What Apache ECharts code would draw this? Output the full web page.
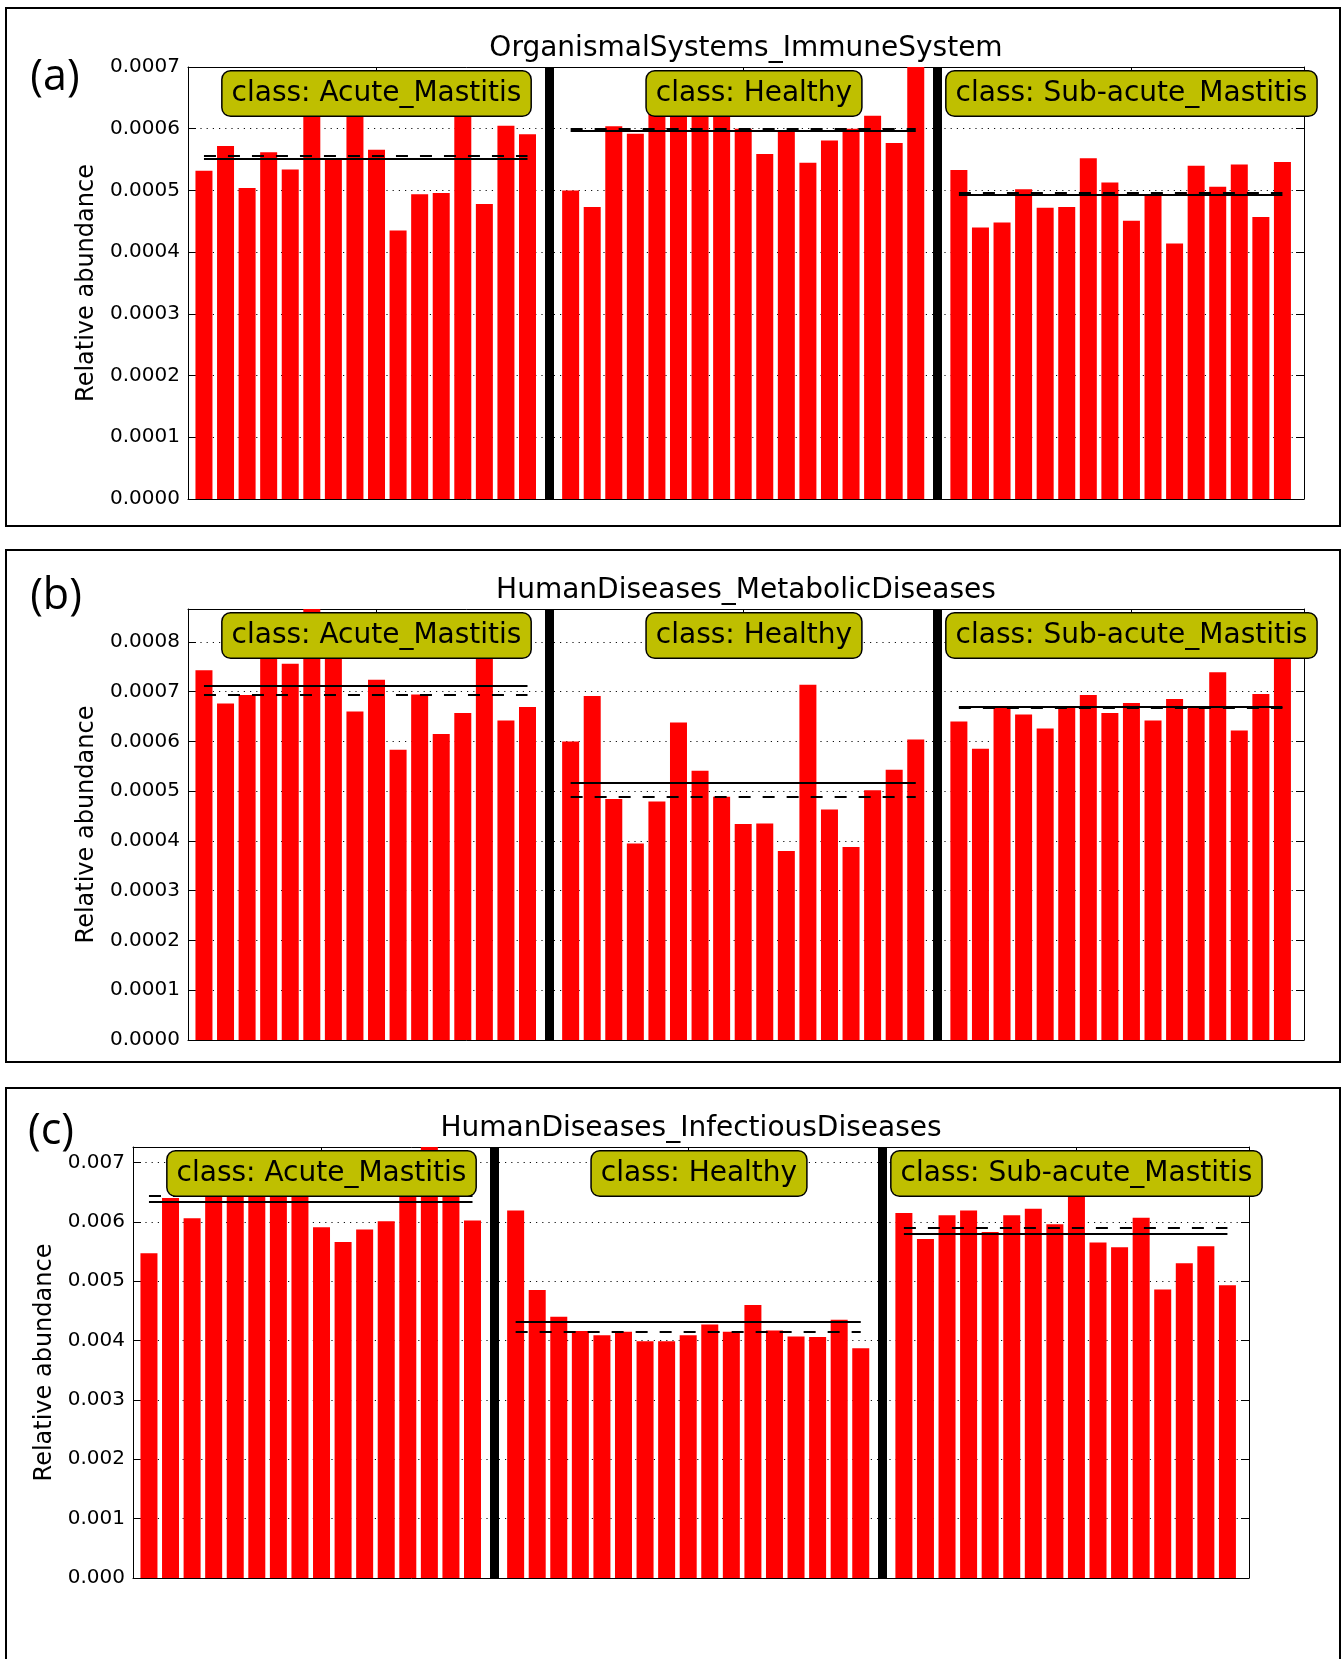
<!DOCTYPE html>
<html>
<head>
<meta charset="utf-8">
<script src="https://cdn.jsdelivr.net/npm/echarts@6/dist/echarts.min.js"></script>
<style>
  html, body { margin: 0; padding: 0; background: #fff; }
  #main { width: 1341px; height: 1659px; }
</style>
</head>
<body>
<div id="main"></div>
<script>
// texts
const panelTitles = ['OrganismalSystems_ImmuneSystem', 'HumanDiseases_MetabolicDiseases', 'HumanDiseases_InfectiousDiseases']
const panelTags = ['(a)', '(b)', '(c)']
const classNames = ['Acute_Mastitis', 'Healthy', 'Sub-acute_Mastitis']
const yAxisName = 'Relative abundance'

// (a) immune system
const immuneAcute = [0.000532, 0.000572, 0.000504, 0.000562, 0.000534, 0.000625, 0.000551, 0.000640,
  0.000566, 0.000435, 0.000494, 0.000496, 0.000631, 0.000478, 0.000605, 0.000591]
const immuneHealthy = [0.000500, 0.000473, 0.000604, 0.000592, 0.000640, 0.000655, 0.000645, 0.000645,
  0.000600, 0.000559, 0.000595, 0.000545, 0.000581, 0.000600, 0.000621, 0.000577, 0.000700]
const immuneSubacute = [0.000533, 0.000440, 0.000448, 0.000502, 0.000472, 0.000473, 0.000552, 0.000513,
  0.000451, 0.000492, 0.000414, 0.000540, 0.000506, 0.000542, 0.000457, 0.000546]

// (b) metabolic diseases
const metabolicAcute = [0.000743, 0.000676, 0.000693, 0.000800, 0.000756, 0.000866, 0.000810, 0.000660,
  0.000724, 0.000583, 0.000694, 0.000615, 0.000657, 0.000804, 0.000642, 0.000669]
const metabolicHealthy = [0.000600, 0.000691, 0.000484, 0.000395, 0.000479, 0.000638, 0.000541, 0.000489,
  0.000434, 0.000435, 0.000380, 0.000714, 0.000463, 0.000388, 0.000502, 0.000543, 0.000604]
const metabolicSubacute = [0.000640, 0.000585, 0.000668, 0.000654, 0.000626, 0.000668, 0.000693, 0.000657,
  0.000677, 0.000642, 0.000685, 0.000668, 0.000739, 0.000622, 0.000695, 0.000801]

// (c) infectious diseases
const infectiousAcute = [0.00547, 0.00640, 0.00606, 0.00655, 0.00648, 0.00670, 0.00665, 0.00680,
  0.00591, 0.00566, 0.00587, 0.00601, 0.00672, 0.00726, 0.00688, 0.00602]
const infectiousHealthy = [0.00619, 0.00485, 0.00440, 0.00416, 0.00409, 0.00415, 0.00399, 0.00399,
  0.00409, 0.00427, 0.00415, 0.00460, 0.00417, 0.00407, 0.00406, 0.00435, 0.00387]
const infectiousSubacute = [0.00615, 0.00571, 0.00611, 0.00619, 0.00583, 0.00611, 0.00622, 0.00596,
  0.00655, 0.00565, 0.00557, 0.00607, 0.00486, 0.00530, 0.00559, 0.00493]

// y ticks
const yTickSteps = [0.0001, 0.0001, 0.001]
const yTickDigits = [4, 4, 3]

const panels = [
  { groups: [immuneAcute, immuneHealthy, immuneSubacute] },
  { groups: [metabolicAcute, metabolicHealthy, metabolicSubacute] },
  { groups: [infectiousAcute, infectiousHealthy, infectiousSubacute] },
]

// layout (pixels)
const PLOT_W = 1116
const X_MIN = -0.74
const X_MAX = 51
const layout = [
  { left: 188, top: 67, height: 432, box: [6, 8, 1334, 518], tag: [54, 78], nameGap: 86 },
  { left: 188, top: 609, height: 431, box: [6, 550, 1334, 512], tag: [55, 597], nameGap: 86 },
  { left: 133, top: 1147, height: 431, box: [6, 1088, 1334, 620], tag: [50, 1132], nameGap: 75 },
]
const FONT = '"DejaVu Sans", "Liberation Sans", sans-serif'

function mean(a) {
  return a.reduce((s, v) => s + v, 0) / a.length
}
function median(a) {
  const s = a.slice().sort((x, y) => x - y)
  const m = Math.floor(s.length / 2)
  return s.length % 2 ? s[m] : (s[m - 1] + s[m]) / 2
}

const grid = [], xAxis = [], yAxis = [], series = [], graphic = []

panels.forEach((p, i) => {
  const L = layout[i]
  const step = yTickSteps[i]
  const yMax = Math.max(...p.groups.flat())

  let slot = 0
  const barData = [], lines = [], labels = [], ticks = []
  p.groups.forEach((vals, g) => {
    const start = slot
    vals.forEach(v => { barData.push([slot, v]); slot++ })
    const last = slot - 1
    // mean (solid) and median (dashed)
    lines.push([
      { coord: [start, mean(vals)], lineStyle: { color: '#000', width: 2, type: 'solid' } },
      { coord: [last, mean(vals)] },
    ])
    lines.push([
      { coord: [start, median(vals)], lineStyle: { color: '#000', width: 2, type: [12, 12] } },
      { coord: [last, median(vals)] },
    ])
    const centre = (start + last + 1) / 2
    ticks.push(Math.floor(centre))
    labels.push({ name: classNames[g], coord: [centre, yMax] })
    if (g < p.groups.length - 1) {
      // black separator between classes
      lines.push({ xAxis: slot, lineStyle: { color: '#000', width: 9, type: 'solid' } })
      slot++
    }
  })

  grid.push({ left: L.left, top: L.top, width: PLOT_W, height: L.height, show: false })

  const xBase = {
    type: 'value', gridIndex: i, min: X_MIN, max: X_MAX,
    axisLine: { show: true, onZero: false, lineStyle: { color: '#000', width: 1 } },
    axisTick: { show: true, inside: true, length: 8, customValues: ticks, lineStyle: { color: '#000' } },
    axisLabel: { show: false },
    splitLine: { show: false },
  }
  xAxis.push(Object.assign({ position: 'bottom' }, xBase))
  xAxis.push(Object.assign({ position: 'top' }, xBase))

  const yBase = {
    type: 'value', gridIndex: i, min: 0, max: yMax, interval: step,
    axisLine: { show: true, onZero: false, lineStyle: { color: '#000', width: 1 } },
    axisTick: { show: true, inside: true, length: 8, lineStyle: { color: '#000' } },
  }
  yAxis.push(Object.assign({}, yBase, {
    position: 'left',
    name: yAxisName,
    nameLocation: 'middle',
    nameGap: L.nameGap,
    nameTextStyle: { fontSize: 24, fontFamily: FONT, color: '#000' },
    axisLabel: {
      fontSize: 20, fontFamily: FONT, color: '#000', margin: 8,
      formatter: v => {
        const r = v / step
        return Math.abs(r - Math.round(r)) < 1e-6 ? v.toFixed(yTickDigits[i]) : ''
      },
    },
    splitLine: { show: true, lineStyle: { color: '#111', width: 1.2, type: [1.2, 5] } },
  }))
  yAxis.push(Object.assign({}, yBase, {
    position: 'right',
    axisLabel: { show: false },
    splitLine: { show: false },
  }))

  series.push({
    type: 'bar',
    xAxisIndex: 2 * i, yAxisIndex: 2 * i,
    data: barData,
    barWidth: 17,
    itemStyle: { color: '#ff0000' },
    z: 2,
    silent: true,
  })
  series.push({
    type: 'line',
    xAxisIndex: 2 * i, yAxisIndex: 2 * i,
    data: [],
    z: 5,
    silent: true,
    markLine: {
      silent: true,
      symbol: ['none', 'none'],
      label: { show: false },
      emphasis: { disabled: true },
      data: lines,
    },
    markPoint: {
      silent: true,
      symbol: 'rect',
      symbolSize: 1,
      itemStyle: { color: 'rgba(0,0,0,0)' },
      label: {
        show: true,
        position: 'bottom',
        distance: 4,
        formatter: d => 'class: ' + d.name,
        fontSize: 28,
        fontFamily: FONT,
        color: '#000',
        lineHeight: 33,
        backgroundColor: '#bfbf00',
        borderColor: '#000',
        borderWidth: 1.5,
        borderRadius: 8,
        padding: [6, 9, 5, 9],
      },
      data: labels,
    },
  })

  // outer frame, title and panel letter
  graphic.push({
    type: 'rect', silent: true, z: 0,
    shape: { x: L.box[0], y: L.box[1], width: L.box[2], height: L.box[3] },
    style: { fill: 'none', stroke: '#000', lineWidth: 2 },
  })
  graphic.push({
    type: 'text', silent: true, x: L.left + PLOT_W / 2, y: L.top - 18,
    style: {
      text: panelTitles[i], font: '28px ' + FONT, fill: '#000',
      textAlign: 'center', textVerticalAlign: 'middle', align: 'center', verticalAlign: 'middle',
    },
  })
  graphic.push({
    type: 'text', silent: true, x: L.tag[0] + 1, y: L.tag[1],
    style: {
      text: panelTags[i], font: '43px "Open Sans", "Noto Sans", sans-serif', fill: '#000',
      textAlign: 'center', textVerticalAlign: 'middle', align: 'center', verticalAlign: 'middle',
    },
  })
})

const chart = echarts.init(document.getElementById('main'))
chart.setOption({
  backgroundColor: '#fff',
  animation: false,
  textStyle: { fontFamily: FONT },
  grid, xAxis, yAxis, series, graphic,
})
</script>
</body>
</html>
